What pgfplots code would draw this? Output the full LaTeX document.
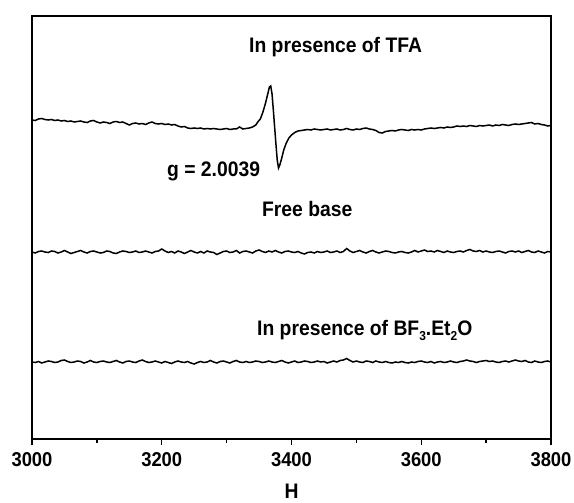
\documentclass[border=0pt]{standalone}
\usepackage{fontspec}
\setmainfont{Liberation Sans}[FakeStretch=0.92]
\usepackage{pgfplots}
\pgfplotsset{compat=1.18}
\begin{document}
\begin{tikzpicture}
\begin{axis}[
 at={(0,0)}, anchor=south west, scale only axis,
 width=519bp, height=423bp,
 xmin=3000, xmax=3800, ymin=0, ymax=423,
 xtick={3000,3200,3400,3600,3800}, minor x tick num=1,
 ytick=\empty,
 xtick pos=bottom, tick align=outside,
 major tick length=6bp, minor tick length=4bp,
 axis line style={line width=1.4bp},
 every tick/.style={line width=1.3bp, black},
 /pgf/number format/assume math mode=true,
 /pgf/number format/1000 sep={},
 xticklabel style={font=\bfseries\fontsize{20bp}{24bp}\selectfont, yshift=-4bp},
 clip=false,
]
% In presence of TFA
\addplot[black, line width=1.5bp] coordinates {
(3000,319) (3005,318.5) (3010,320) (3015,320.5) (3020,319.5) (3025,319) (3030,319.5) (3035,318.5) (3040,319) (3045,318)
(3050,318.5) (3055,317.5) (3060,318) (3065,317) (3070,317.5) (3075,318) (3080,317) (3085,316.5) (3090,318) (3095,318.5)
(3100,317) (3105,316) (3110,317) (3115,316.5) (3120,315.5) (3125,317) (3130,317.5) (3135,316.5) (3140,317) (3145,315.5)
(3150,314) (3155,315.5) (3160,316) (3165,315) (3170,315.5) (3175,314.5) (3180,316) (3185,317) (3190,315.5) (3195,315)
(3200,315.5) (3205,314.5) (3210,315) (3215,314) (3220,314.5) (3225,313) (3230,312) (3235,312.5) (3240,311) (3245,310.5)
(3250,311) (3255,310.5) (3260,311) (3265,310) (3270,310.5) (3275,310) (3280,310.5) (3285,310) (3290,309.5) (3295,310)
(3300,310.5) (3305,309.5) (3310,310) (3315,310) (3320,312) (3325,310) (3330,310.5) (3335,311) (3340,312) (3345,314)
(3348,317) (3352,320) (3356,327) (3360,336) (3363,344) (3366,352) (3368,353) (3370,345) (3372,329) (3374,312)
(3376,295) (3378,279) (3380,271) (3382,274) (3385,281) (3388,289) (3392,296) (3396,301) (3400,304) (3405,306.5)
(3410,308) (3415,308.5) (3420,309)
(3425,309.5) (3430,309) (3435,310) (3440,309.5) (3445,309) (3450,309.5) (3455,310) (3460,309) (3465,309.5) (3470,310)
(3475,309) (3480,309.5) (3485,310.5) (3490,309.5) (3495,309) (3500,310) (3505,309.5) (3510,310.5) (3515,311) (3520,310)
(3525,309.5) (3530,308.5) (3535,306.5) (3540,306) (3545,307.5) (3550,308) (3555,308.5) (3560,308) (3565,309) (3570,309.5)
(3575,309) (3580,308.5) (3585,309.5) (3590,309) (3595,309.5) (3600,309) (3605,310) (3610,310.5) (3615,311) (3620,310.5)
(3625,311) (3630,311.5) (3635,311) (3640,312) (3645,311.5) (3650,312) (3655,313) (3660,312.5) (3665,313) (3670,312.5)
(3675,313.5) (3680,313) (3685,312.5) (3690,313.5) (3695,313) (3700,313.5) (3705,314) (3710,313) (3715,314) (3720,313.5)
(3725,314.5) (3730,314) (3735,313.5) (3740,314.5) (3745,315) (3750,314.5) (3755,315) (3760,315.5) (3765,316) (3770,316.5)
(3775,315) (3780,315.5) (3785,314.5) (3790,314) (3795,313) (3800,313.5)
};
% Free base
\addplot[black, line width=1.5bp] coordinates {
(3000,187) (3005,186) (3010,187.5) (3015,188) (3020,187) (3025,186.5) (3030,188) (3035,187.5) (3040,186) (3045,187)
(3050,188.5) (3055,187) (3060,185.5) (3065,186.5) (3070,187.5) (3075,188.5) (3080,187) (3085,186) (3090,187.5) (3095,188)
(3100,187) (3105,186) (3110,186.5) (3115,188) (3120,187.5) (3125,186) (3130,185.5) (3135,187) (3140,188) (3145,187.5)
(3150,186.5) (3155,187) (3160,188) (3165,186.5) (3170,187) (3175,188) (3180,187) (3185,186) (3190,187.5) (3195,188)
(3200,190) (3205,188) (3210,186.5) (3215,187.5) (3220,186) (3225,188) (3230,187) (3235,185.5) (3240,187) (3245,188.5)
(3250,187) (3255,186) (3260,187.5) (3265,186) (3270,188) (3275,187) (3280,186.5) (3285,184.5) (3290,186) (3295,187.5)
(3300,188) (3305,186.5) (3310,187) (3315,188.5) (3320,186) (3325,187.5) (3330,188) (3335,187) (3340,186) (3345,188)
(3350,189) (3355,187.5) (3360,186.5) (3365,188) (3370,187) (3375,188.5) (3380,187) (3385,186) (3390,187.5) (3395,188)
(3400,187) (3405,186.5) (3410,187.5) (3415,186) (3420,185) (3425,186.5) (3430,187) (3435,186) (3440,187.5) (3445,186.5)
(3450,187) (3455,188) (3460,186.5) (3465,187) (3470,188) (3475,186.5) (3480,187.5) (3485,190.5) (3490,188) (3495,186.5)
(3500,187.5) (3505,188.5) (3510,187) (3515,186) (3520,187.5) (3525,188.5) (3530,187) (3535,186) (3540,187) (3545,188)
(3550,187.5) (3555,186.5) (3560,186) (3565,187) (3570,187.5) (3575,186.5) (3580,186) (3585,187) (3590,188.5) (3595,187)
(3600,188) (3605,189) (3610,187.5) (3615,188) (3620,187) (3625,188.5) (3630,187.5) (3635,186.5) (3640,188) (3645,187)
(3650,186.5) (3655,187.5) (3660,188) (3665,187) (3670,188.5) (3675,189.5) (3680,188) (3685,187.5) (3690,188.5) (3695,187)
(3700,188) (3705,187) (3710,186.5) (3715,187.5) (3720,188) (3725,187) (3730,186) (3735,187.5) (3740,188) (3745,187)
(3750,188) (3755,186.5) (3760,187.5) (3765,188.5) (3770,187) (3775,186.5) (3780,188) (3785,187) (3790,186) (3795,187.5) (3800,187)
};
% In presence of BF3.Et2O
\addplot[black, line width=1.5bp] coordinates {
(3000,77) (3005,76.5) (3010,77.5) (3015,76) (3020,77) (3025,78) (3030,77.5) (3035,76.5) (3040,77) (3045,78.5)
(3050,79) (3055,77.5) (3060,76.5) (3065,77) (3070,78) (3075,77.5) (3080,76) (3085,77) (3090,78.5) (3095,77)
(3100,76.5) (3105,77.5) (3110,78) (3115,77) (3120,76.5) (3125,77.5) (3130,78.5) (3135,77) (3140,76) (3145,77.5)
(3150,78) (3155,77) (3160,76.5) (3165,78) (3170,79) (3175,77.5) (3180,76.5) (3185,77) (3190,78) (3195,77)
(3200,76) (3205,77.5) (3210,76.5) (3215,75.5) (3220,77) (3225,78) (3230,77) (3235,76.5) (3240,77.5) (3245,76)
(3250,75) (3255,76.5) (3260,77.5) (3265,76.5) (3270,77) (3275,78.5) (3280,77) (3285,76) (3290,77.5) (3295,78)
(3300,77) (3305,76) (3310,77.5) (3315,78.5) (3320,77) (3325,76.5) (3330,77.5) (3335,76.5) (3340,77) (3345,78)
(3350,77.5) (3355,76.5) (3360,77) (3365,78) (3370,77) (3375,76.5) (3380,77.5) (3385,78.5) (3390,77) (3395,76)
(3400,77) (3405,78) (3410,76.5) (3415,77) (3420,78) (3425,77.5) (3430,76.5) (3435,77) (3440,78) (3445,77)
(3450,77.5) (3455,76) (3460,77) (3465,78) (3470,77) (3475,78.5) (3480,79) (3485,80.5) (3490,78.5) (3495,77)
(3500,78) (3505,77) (3510,76.5) (3515,78) (3520,77.5) (3525,76.5) (3530,78) (3535,77) (3540,76.5) (3545,77.5)
(3550,76.5) (3555,76) (3560,77) (3565,76.5) (3570,77.5) (3575,76.5) (3580,76) (3585,77) (3590,76.5) (3595,77.5)
(3600,78) (3605,77) (3610,76.5) (3615,77.5) (3620,76) (3625,77) (3630,77.5) (3635,76.5) (3640,77) (3645,78)
(3650,77) (3655,76.5) (3660,77.5) (3665,78) (3670,79) (3675,78) (3680,77.5) (3685,76.5) (3690,77.5) (3695,78)
(3700,78.5) (3705,77.5) (3710,78) (3715,77) (3720,76.5) (3725,77.5) (3730,78) (3735,77) (3740,78) (3745,79)
(3750,78) (3755,77.5) (3760,78.5) (3765,77) (3770,76.5) (3775,78) (3780,77) (3785,76.5) (3790,77.5) (3795,78) (3800,77)
};
\node[anchor=base west, font=\bfseries\fontsize{21bp}{24bp}\selectfont, inner sep=0pt] at (axis cs:3334.5,386) {In presence of TFA};
\node[anchor=base west, font=\bfseries\fontsize{21bp}{24bp}\selectfont, inner sep=0pt] at (axis cs:3208,262) {g = 2.0039};
\node[anchor=base west, font=\bfseries\fontsize{21bp}{24bp}\selectfont, inner sep=0pt] at (axis cs:3354.5,222) {Free base};
\node[anchor=base west, font=\bfseries\fontsize{21bp}{24bp}\selectfont, inner sep=0pt] at (axis cs:3346.8,103) {In presence of BF\raisebox{-0.45ex}{\fontsize{13bp}{14bp}\selectfont 3}.Et\raisebox{-0.45ex}{\fontsize{13bp}{14bp}\selectfont 2}O};
\node[anchor=base, font=\bfseries\fontsize{21bp}{24bp}\selectfont, inner sep=0pt] at (axis cs:3400,0) [yshift=-59bp] {H};
\end{axis}
\pgfresetboundingbox
\path[use as bounding box] (-32bp,-64bp) rectangle (542bp,439bp);
\end{tikzpicture}
\end{document}
